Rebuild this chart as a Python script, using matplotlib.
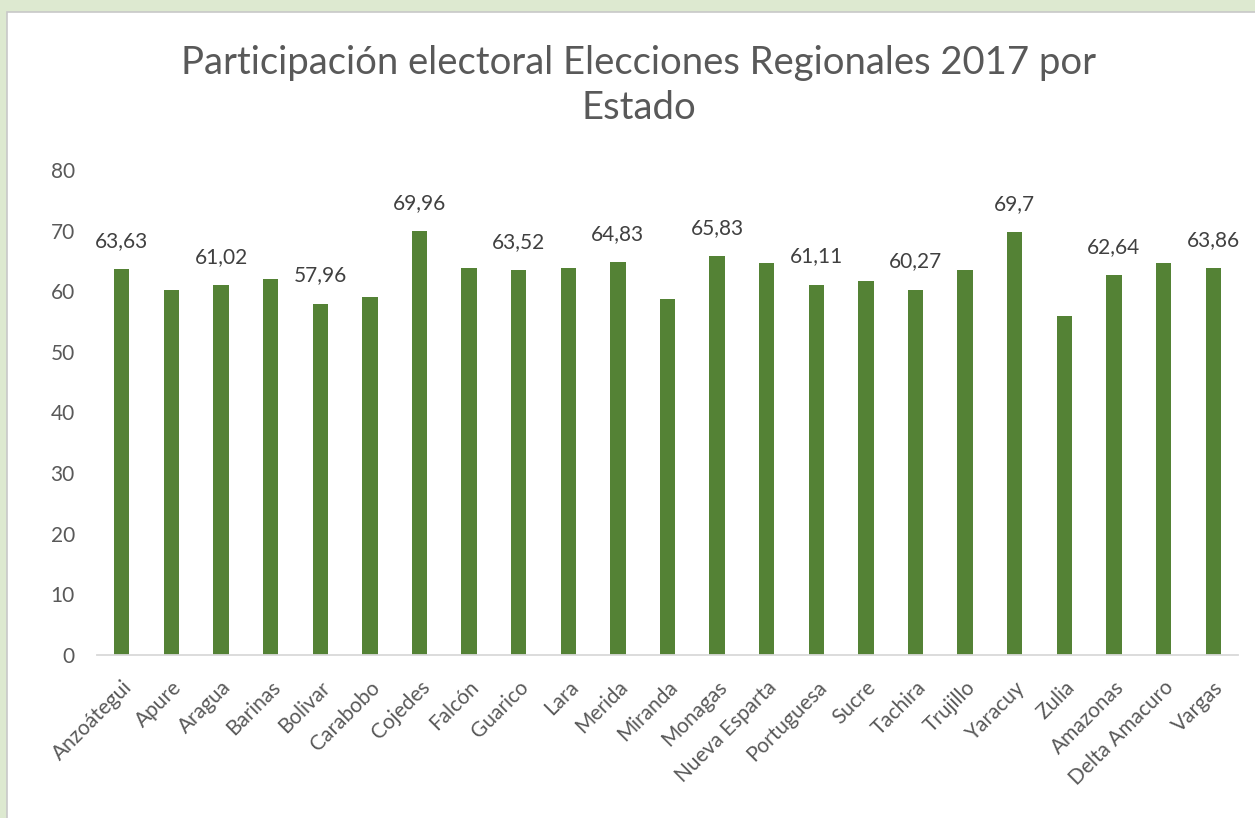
import matplotlib
matplotlib.use("Agg")
import matplotlib.pyplot as plt
import matplotlib.transforms as mtransforms
from matplotlib.patches import Rectangle

estados = ["Anzoátegui", "Apure", "Aragua", "Barinas", "Bolivar", "Carabobo",
           "Cojedes", "Falcón", "Guarico", "Lara", "Merida", "Miranda",
           "Monagas", "Nueva Esparta", "Portuguesa", "Sucre", "Tachira",
           "Trujillo", "Yaracuy", "Zulia", "Amazonas", "Delta Amacuro", "Vargas"]
participacion = [63.63, 60.14, 61.02, 62.0, 57.96, 59.05,
                 69.96, 63.8, 63.52, 63.8, 64.83, 58.8,
                 65.83, 64.6, 61.11, 61.73, 60.27,
                 63.52, 69.7, 55.93, 62.64, 64.6, 63.86]
# which bars show a data label
etiquetados = [0, 2, 4, 6, 8, 10, 12, 14, 16, 18, 20, 22]
yticks = [0, 10, 20, 30, 40, 50, 60, 70, 80]

W, H = 1255, 818
fig = plt.figure(figsize=(W / 100, H / 100), dpi=100)
fig.patch.set_facecolor("#dde9d0")
# white chart area with thin gray border
fig.patches.append(Rectangle((7 / W, -0.01), 1.01 - 7 / W, 1.01 - 12 / H, transform=fig.transFigure,
                             facecolor="white", edgecolor="#c8c8c8", linewidth=1.2, zorder=-5))

FONT = ["Lato", "DejaVu Sans"]
TXT = "#595959"
FS = 15

ax = fig.add_axes([97 / W, 1 - 655 / H, (1238 - 97) / W, (655 - 170) / H])
ax.set_facecolor("none")
x = list(range(len(estados)))
ax.bar(x, participacion, width=0.31, color="#548235", zorder=2)
ax.set_xlim(-0.5, len(estados) - 0.5)
ax.set_ylim(0, 80)
ax.set_yticks(yticks)
ax.set_yticklabels([str(t) for t in yticks], fontsize=FS, color=TXT, family=FONT)
ax.set_xticks(x)
ax.set_xticklabels(estados, rotation=45, ha="right", va="top", rotation_mode="anchor",
                   fontsize=FS, color=TXT, family=FONT)
shift = mtransforms.ScaledTranslation(7 / 100, 0, fig.dpi_scale_trans)
for lab in ax.get_xticklabels():
    lab.set_transform(lab.get_transform() + shift)
ax.tick_params(axis="both", length=0)
ax.tick_params(axis="y", pad=16)
ax.tick_params(axis="x", pad=16)
for s in ["top", "right", "left"]:
    ax.spines[s].set_visible(False)
ax.spines["bottom"].set_color("#d9d9d9")
ax.spines["bottom"].set_linewidth(1.3)

for i in etiquetados:
    if i < len(participacion):
        v = participacion[i]
        lab = ("%g" % v).replace(".", ",")
        ax.annotate(lab, (i, v), xytext=(0, 13), textcoords="offset points",
                    ha="center", va="bottom", fontsize=FS, color="#404040", family=FONT)

fig.text(0.509, 1 - 63 / H, "Participación electoral Elecciones Regionales 2017 por",
         ha="center", va="center", fontsize=27.5, color=TXT, family=FONT)
fig.text(0.509, 1 - 108 / H, "Estado", ha="center", va="center", fontsize=27.5, color=TXT,
         family=FONT)

fig.savefig("out.png", dpi=100, facecolor=fig.get_facecolor())
